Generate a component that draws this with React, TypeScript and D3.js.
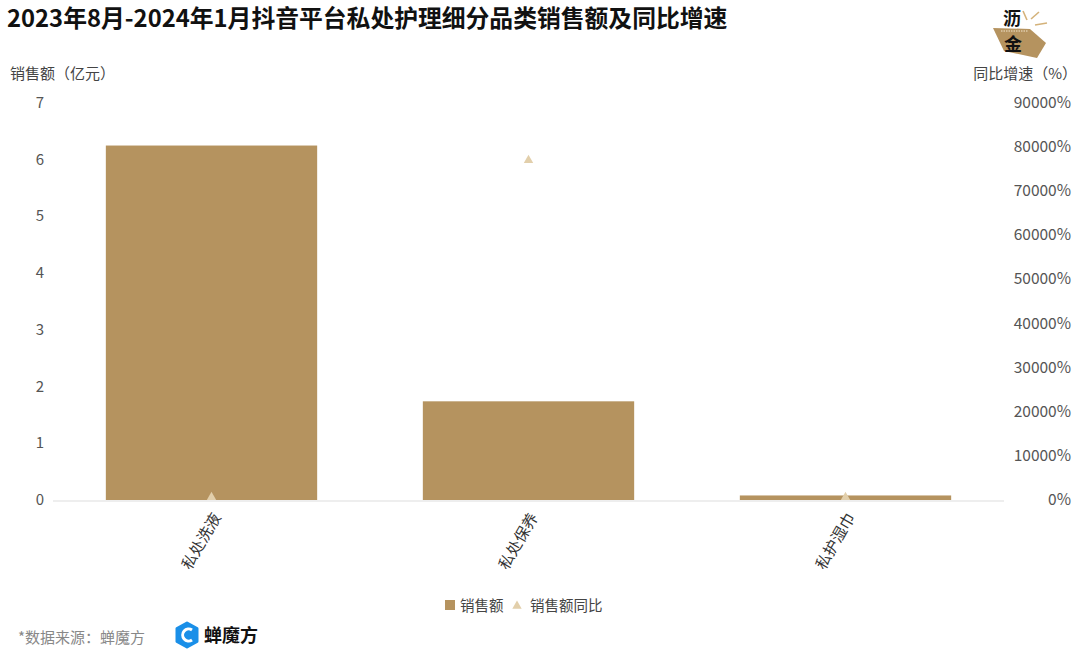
import React from "react";
import * as d3 from "d3";

const categories = ["私处洗液", "私处保养", "私护湿巾"];
const salesValues = [6.25, 1.74, 0.08];
const yoyValues = [400, 76800, 400];
const leftTicks = [0, 1, 2, 3, 4, 5, 6, 7];
const rightTicks = [0, 10000, 20000, 30000, 40000, 50000, 60000, 70000, 80000, 90000];

const W = 1080;
const H = 661;
const FONT = "'Noto Sans CJK SC', 'Noto Sans', sans-serif";
const BAR = "#b5935f";
const TRI = "#e2cfab";

export default function App() {
  const x = d3.scaleBand<string>().domain(categories).range([53, 1004]).paddingInner(1 / 3).paddingOuter(1 / 6);
  const yL = d3.scaleLinear().domain([0, 7]).range([500, 103]);
  const yR = d3.scaleLinear().domain([0, 90000]).range([500, 103]);
  const tri = d3.symbol().type(d3.symbolTriangle).size(38)();

  return (
    <svg width={W} height={H} style={{ position: "absolute", left: 0, top: 0, background: "#fff" }} fontFamily={FONT}>
      <text x={7} y={27} fontSize={23.8} fontWeight="bold" fill="#111">
        2023年8月-2024年1月抖音平台私处护理细分品类销售额及同比增速
      </text>

      {/* top-right logo */}
      <g>
        <polygon points="993,28 1030,29 1046,43 1037,58 1004,51" fill="#b5935f" />
        <line x1={1023} y1={11} x2={1027} y2={20} stroke="#d4b27a" strokeWidth={1.6} />
        <line x1={1031} y1={19} x2={1039} y2={12} stroke="#d4b27a" strokeWidth={1.6} />
        <line x1={1035} y1={25} x2={1047} y2={23} stroke="#d4b27a" strokeWidth={1.6} />
        <line x1={1001} y1={31} x2={1028} y2={31} stroke="#f3e6cf" strokeWidth={1} strokeDasharray="1.5 1" />
        <text x={1012} y={25} fontSize={18} fontWeight="bold" textAnchor="middle" fill="#111">沥</text>
        <text x={1013} y={51} fontSize={18} fontWeight="bold" textAnchor="middle" fill="#111">金</text>
      </g>

      <text x={10} y={79} fontSize={15} fill="#444">销售额（亿元）</text>
      <text x={1077} y={79} fontSize={15} fill="#444" textAnchor="end">同比增速（%）</text>

      {leftTicks.map((t) => (
        <text key={"l" + t} x={44} y={yL(t) + 5} fontSize={15} fill="#555" textAnchor="end">{t}</text>
      ))}
      {rightTicks.map((t) => (
        <text key={"r" + t} x={1071} y={yR(t) + 5} fontSize={15.5} fill="#555" textAnchor="end">{t + "%"}</text>
      ))}

      {categories.map((c, i) => (
        <rect key={"b" + c} x={x(c)} y={yL(salesValues[i])} width={x.bandwidth()} height={yL(0) - yL(salesValues[i])} fill={BAR} />
      ))}
      <line x1={53} x2={1004} y1={501} y2={501} stroke="#dddddd" strokeWidth={1} />

      {categories.map((c, i) => (
        <path key={"t" + c} d={tri!} transform={`translate(${x(c)! + x.bandwidth() / 2},${yR(yoyValues[i]) - 1})`} fill={TRI} />
      ))}

      {categories.map((c) => {
        const cx = x(c)! + x.bandwidth() / 2;
        return (
          <text key={"x" + c} transform={`translate(${cx + 10},${517}) rotate(-60)`} fontSize={15.5} fill="#333" textAnchor="end">
            {c}
          </text>
        );
      })}

      {/* legend */}
      <rect x={445} y={600} width={10} height={10} fill={BAR} />
      <text x={460} y={610.5} fontSize={14.5} fill="#444">销售额</text>
      <path d={tri!} transform="translate(517,606)" fill={TRI} />
      <text x={530} y={610.5} fontSize={14.5} fill="#444">销售额同比</text>

      {/* source */}
      <text x={18} y={643} fontSize={15} fill="#888">*数据来源：蝉魔方</text>
      <g>
        <path d="M187,623 L197,628.5 L197,641.5 L187,647 L177,641.5 L177,628.5 Z" fill="#1a8fe8" stroke="#1a8fe8" strokeWidth={3} strokeLinejoin="round" />
        <path d="M192,630 A6,6 0 1 0 192,640" fill="none" stroke="#fff" strokeWidth={3} />
        <text x={204} y={642} fontSize={18} fontWeight="bold" fill="#111">蝉魔方</text>
      </g>
    </svg>
  );
}
